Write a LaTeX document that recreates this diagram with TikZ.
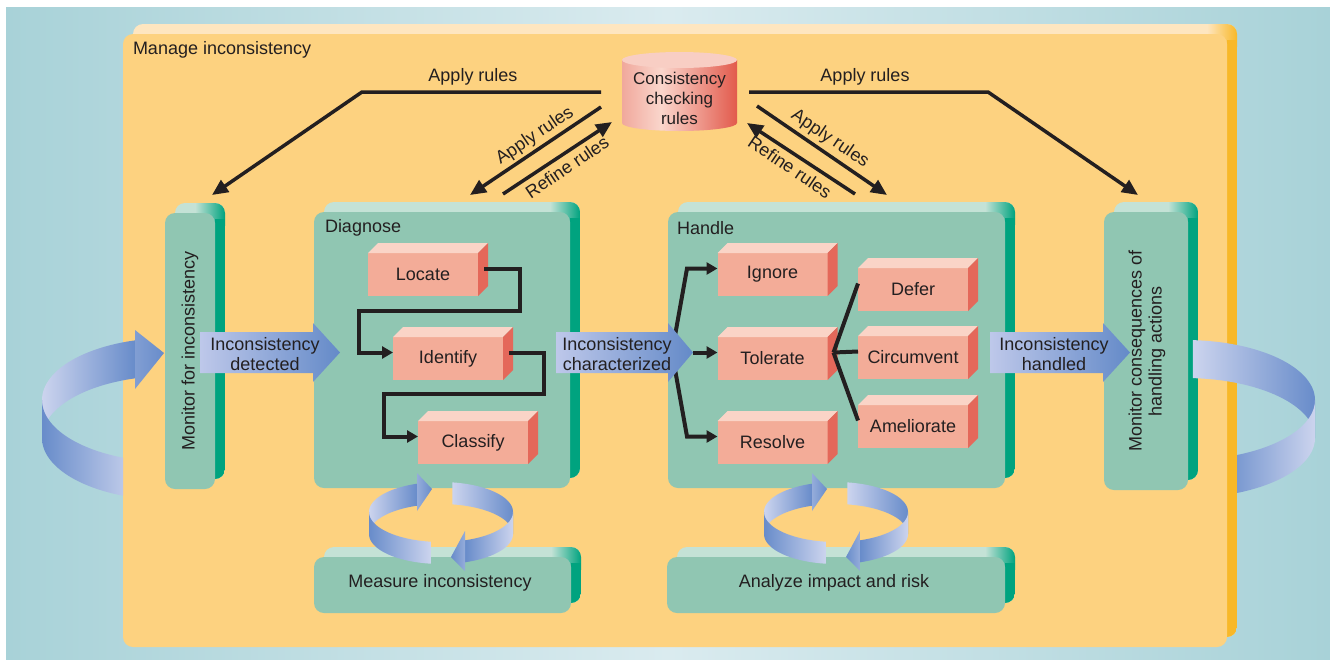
\documentclass[tikz,border=0pt]{standalone}
\usepackage{fontspec}
\setmainfont{Liberation Sans}
\usetikzlibrary{arrows.meta,calc}

\definecolor{bgdark}{RGB}{168,210,216}
\definecolor{bglight}{RGB}{218,235,239}
\definecolor{orfront}{RGB}{253,210,128}
\definecolor{ortop}{RGB}{254,230,192}
\definecolor{orside}{RGB}{248,184,40}
\definecolor{gfront}{RGB}{144,198,178}
\definecolor{gtop}{RGB}{196,226,214}
\definecolor{gside}{RGB}{0,163,127}
\definecolor{pfront}{RGB}{243,172,152}
\definecolor{ptop}{RGB}{250,212,199}
\definecolor{pside}{RGB}{228,104,90}
\definecolor{arlight}{RGB}{190,200,234}
\definecolor{ardark}{RGB}{100,138,200}
\definecolor{lplight}{RGB}{204,212,238}
\definecolor{lpdark}{RGB}{104,140,202}
\definecolor{ink}{RGB}{35,31,32}
\definecolor{cyA}{RGB}{240,168,156}
\definecolor{cyB}{RGB}{250,214,204}
\definecolor{cyC}{RGB}{226,90,76}
\definecolor{cytop}{RGB}{248,206,196}

\pgfdeclarehorizontalshading{cylsh}{100bp}{color(0bp)=(cyA); color(25bp)=(cyA); color(42bp)=(cyB); color(75bp)=(cyC); color(100bp)=(cyC)}

% 3D rounded box: name, x1,y1,x2,y2, front, top, side
\newcommand\tdbox[8]{%
  \begin{scope}
    \clip[rounded corners=10pt] (#2+10,#3-10) rectangle (#4+10,#5-10);
    \fill[#7] (#2,#3-12) rectangle (#4+10,#5);
    \shade[left color=#7,right color=#8] (#4-20,#3-12) rectangle (#4+10,#3+12);
    \fill[#8] (#4,#3+6) rectangle (#4+10,#5);
  \end{scope}
  \pgfmathsetmacro\bw{#4-#2}\pgfmathsetmacro\bh{#5-#3}%
  \node[fill=#6, rounded corners=10pt, minimum width=\bw pt, minimum height=\bh pt,
        inner sep=0pt, outer sep=0pt] (#1) at ({(#2+#4)/2},{(#3+#5)/2}) {};
}
% pink box 3D faces
\newcommand\pinkfaces[1]{%
  \fill[ptop] (#1.north west) -- ++(10,-10) -- ($(#1.north east)+(10,-10)$) -- (#1.north east) -- cycle;
  \fill[pside] (#1.north east) -- ++(10,-10) -- ($(#1.south east)+(10,-10)$) -- (#1.south east) -- cycle;
}
% ribbon piece of an elliptic ring
\newcommand\ringpiece[9]{%
  \shade[left color=#8,right color=#9]
    plot[domain=#6:#7,samples=40] ({#1+#3*cos(\x)},{#2-#4*sin(\x)})
    -- plot[domain=#7:#6,samples=40] ({#1+#3*cos(\x)},{#2+#5-#4*sin(\x)}) -- cycle;
}
\newcommand\smallloop[2]{%
  \ringpiece{#1}{#2}{72}{30}{22}{109.5}{180}{lplight}{lpdark}
  \ringpiece{#1}{#2}{72}{30}{22}{0}{81}{lplight}{lpdark}
  \ringpiece{#1}{#2}{72}{30}{22}{180}{262}{lpdark}{lplight}
  \ringpiece{#1}{#2}{72}{30}{22}{-70.5}{0}{lpdark}{lplight}
  \shade[left color=lpdark!55!lplight,right color=lpdark] (#1-24,#2-39) -- (#1-9,#2-23) -- (#1-24,#2-1) -- cycle;
  \shade[left color=lpdark,right color=lpdark!55!lplight] (#1+24,#2+19) -- (#1+10,#2+45) -- (#1+24,#2+59) -- cycle;
}
\newcommand\blockarrow[4]{%
  \shade[left color=arlight,right color=ardark] (#1,#4-20.5) -- (#2,#4-20.5) -- (#2,#4-29.5)
    -- (#3,#4) -- (#2,#4+29.5) -- (#2,#4+20.5) -- (#1,#4+20.5) -- cycle;
}

\begin{document}
\begin{tikzpicture}[x=1pt,y=-1pt, font=\fontsize{18}{20}\selectfont,
  txt/.style={inner sep=0pt, outer sep=0pt, text=ink},
  conn/.style={draw=ink, line width=4pt, -{Triangle[length=11pt,width=12pt]}},
  bigconn/.style={draw=ink, line width=3.5pt, -{Triangle[length=16pt,width=14pt]}},
  plainconn/.style={draw=ink, line width=4pt},
  pinkbox/.style={fill=pfront, minimum width=110pt, minimum height=43pt, inner sep=0pt, outer sep=0pt, text=ink},
]
\useasboundingbox (0,0) rectangle (1330,659);
\fill[white] (0,0) rectangle (1330,659);
\shade[left color=bgdark, right color=bgdark, middle color=bglight] (6,7) rectangle (1330,659);

% main orange frame
\tdbox{mgr}{123}{34}{1227}{647}{orfront}{ortop}{orside}
\node[txt, anchor=west] (mtitle) at (133,50) {Manage inconsistency};

% cylinder
\shade[shading=cylsh] (622,60) -- (622,123) arc[start angle=180, end angle=0, x radius=57.5, y radius=8] -- (737,60) -- cycle;
\fill[cytop] (679.5,60) ellipse[x radius=57.5, y radius=8];
\node[inner sep=0pt, outer sep=0pt, minimum width=115pt, minimum height=79pt] (cyl) at (679.5,91.5) {};
\node[txt, align=center, font=\fontsize{17}{20}\selectfont] (cyltxt) at (679.5,98) {Consistency\\checking\\rules};

% green boxes
\tdbox{mon}{165}{213}{215}{489}{gfront}{gtop}{gside}
\tdbox{dia}{314}{212}{570}{488}{gfront}{gtop}{gside}
\tdbox{han}{668}{212}{1005}{488}{gfront}{gtop}{gside}
\tdbox{mcq}{1104}{212}{1188}{490}{gfront}{gtop}{gside}
\tdbox{mea}{314}{557}{571}{613}{gfront}{gtop}{gside}
\tdbox{ana}{667}{557}{1005}{613}{gfront}{gtop}{gside}

\node[txt, anchor=west] (dtitle) at (325,228) {Diagnose};
\node[txt, anchor=west] (htitle) at (677,228) {Handle};
\node[txt, rotate=90] (montxt) at (190,351) {Monitor for inconsistency};
\node[txt, rotate=90, align=center] (mcqtxt) at (1147,351) {Monitor consequences of\\handling actions};
\node[txt] (meatxt) at (440,583) {Measure inconsistency};
\node[txt] (anatxt) at (834,583) {Analyze impact and risk};

% top connectors
\coordinate (aL) at (601,92);
\coordinate (aR) at (749,92);
\draw[bigconn] (aL) -- (362,92) -- ($(mon.north)+(22,-18)$);
\draw[bigconn] (aR) -- (988,92) -- ($(mcq.north)+(-8,-17)$);
\node[txt] (lbl1) at (473,77) {Apply rules};
\node[txt] (lbl2) at (865,77) {Apply rules};

\draw[bigconn] ($(cyl.south west)+(-21,-24)$) -- ($(dia.north)+(28,-17)$);
\draw[bigconn] ($(dia.north)+(61,-18)$) -- ($(cyl.south west)+(-10,-9)$);
\draw[bigconn] ($(cyl.south east)+(20,-25)$) -- ($(han.north)+(50.5,-17)$);
\draw[bigconn] ($(han.north)+(18.5,-18)$) -- ($(cyl.south east)+(10,-8)$);
\node[txt, rotate=34] (lbl3) at (535,136) {Apply rules};
\node[txt, rotate=34] (lbl4) at (567,167) {Refine rules};
\node[txt, rotate=-34] (lbl5) at (830,139) {Apply rules};
\node[txt, rotate=-34] (lbl6) at (790,167) {Refine rules};

% pink boxes
\node[pinkbox] (loc) at (423,274.5) {Locate};
\node[pinkbox] (idf) at (448,358.5) {Identify};
\node[pinkbox] (cls) at (473,442.5) {Classify};
\node[pinkbox] (ign) at (772.5,274.5) {Ignore};
\node[pinkbox] (tol) at (772.5,358.5) {Tolerate};
\node[pinkbox] (res) at (772.5,442.5) {Resolve};
\node[pinkbox] (def) at (913,289.5) {Defer};
\node[pinkbox] (cir) at (913,357.5) {Circumvent};
\node[pinkbox] (ame) at (913,426.5) {Ameliorate};
\pinkfaces{loc}\pinkfaces{idf}\pinkfaces{cls}
\pinkfaces{ign}\pinkfaces{tol}\pinkfaces{res}
\pinkfaces{def}\pinkfaces{cir}\pinkfaces{ame}

% diagnose connectors
\draw[conn] ($(loc.east)+(6,-6)$) -- (520,268.5) -- (520,311) -- (359,311) -- (359,352.5) -- ($(idf.west)+(0,-6)$);
\draw[conn] ($(idf.east)+(6,-6)$) -- (544,352.5) -- (544,394) -- (384,394) -- (384,436.5) -- ($(cls.west)+(0,-6)$);

% handle connectors
\coordinate (fan) at (672,352.5);
\draw[conn] (fan) -- (687,268.5) -- ($(ign.west)+(0,-6)$);
\draw[conn] (fan) -- (687,436.5) -- ($(res.west)+(0,-6)$);
\coordinate (tolc) at ($(tol.east)+(6,-6)$);
\draw[plainconn] (tolc) -- ($(def.west)+(0,-6)$);
\draw[plainconn] (tolc) -- ($(cir.west)+(0,-6)$);
\draw[plainconn] (tolc) -- ($(ame.west)+(0,-6)$);

% block arrows
\blockarrow{200}{313}{340}{352.5}
\blockarrow{556}{668}{693}{352.5}
\blockarrow{990}{1103}{1130}{352.5}
\node[txt, align=center] (det) at (265,354) {Inconsistency\\detected};
\node[txt, align=center] (chr) at (617,354) {Inconsistency\\characterized};
\node[txt, align=center] (hdl) at (1054,354) {Inconsistency\\handled};
\coordinate (chtip) at (693,352.5);
\draw[conn] (chtip) -- ($(tol.west)+(0,-6)$);

% small loops
\smallloop{441}{512}
\smallloop{836}{512}

% big loops
\ringpiece{170}{400}{128}{62}{38}{105.9}{180}{lplight}{lpdark}
\begin{scope}
  \clip (0,0) rectangle (123,659);
  \ringpiece{170}{400}{128}{62}{38}{180}{256}{lpdark}{lplight}
\end{scope}
\shade[left color=lpdark!75!lplight,right color=lpdark] (135,330) -- (164,353) -- (135,389) -- cycle;

\ringpiece{1185}{400}{130}{60}{38}{0}{86.5}{lplight}{lpdark}
\begin{scope}
  \clip (1237,0) rectangle (1330,659);
  \ringpiece{1185}{400}{130}{60}{38}{-75}{0}{lpdark}{lplight}
\end{scope}
\end{tikzpicture}
\end{document}
